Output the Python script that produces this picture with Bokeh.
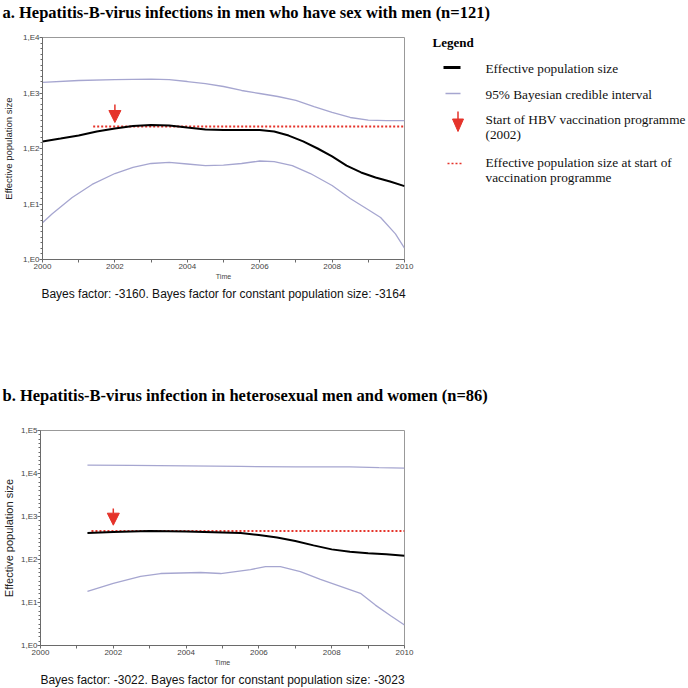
from bokeh.plotting import figure
from bokeh.models import (Arrow, NormalHead, FixedTicker, CustomJSTickFormatter,
                          Range1d, Title)
from bokeh.layouts import column, row
from bokeh.core.properties import value
from bokeh.embed import file_html
from bokeh.resources import INLINE

# ---------------- data: panel a (MSM, n=121) ----------------
a_med_years = [2000, 2000.5, 2001, 2001.5, 2002, 2002.5, 2003, 2003.5, 2004, 2004.5,
               2005, 2005.5, 2006, 2006.4, 2006.8, 2007.2, 2007.6, 2008, 2008.4,
               2008.8, 2009.2, 2009.6, 2010]
a_med_vals = [134, 151, 171, 202, 229, 254, 265, 260, 239, 220, 216, 216, 216, 202,
              171, 134, 100, 72, 49, 37, 30, 25.4, 21]

a_up_years = [2000, 2001, 2002, 2003, 2003.5, 2004, 2004.5, 2005, 2005.5, 2006,
              2006.5, 2007, 2007.5, 2008, 2008.5, 2009, 2009.5, 2010]
a_up_vals = [1550, 1680, 1740, 1780, 1740, 1610, 1480, 1310, 1110, 980, 865, 733,
             570, 447, 362, 325, 318, 318]

a_lo_years = [2000, 2000.27, 2000.82, 2001.37, 2002, 2002.5, 2003, 2003.5, 2004,
              2004.5, 2005, 2005.5, 2006, 2006.4, 2006.9, 2007.4, 2008, 2008.5,
              2009, 2009.34, 2009.75, 2010]
a_lo_vals = [4.6, 6.7, 13.1, 22.5, 35.4, 45.5, 53.7, 56, 52.6, 49, 50, 53.7, 59.5,
             58, 49, 35.4, 21.5, 12.6, 7.9, 5.7, 2.9, 1.6]

a_ref_years = [2001.4, 2010]
a_ref_value = 249
a_vacc_year = 2002
a_arrow_from, a_arrow_to = 620, 294

# ---------------- data: panel b (heterosexual, n=86) ----------------
b_med_years = [2001.29, 2002, 2003, 2004, 2005, 2005.5, 2006, 2006.5, 2007, 2007.5,
               2008, 2008.5, 2009, 2009.5, 2010]
b_med_vals = [412, 434, 457, 445, 423, 412, 371, 324, 270, 213, 172, 151, 139, 132, 122]

b_up_years = [2001.29, 2002.5, 2004, 2005.5, 2007, 2008.5, 2009.3, 2010]
b_up_vals = [15700, 15400, 15000, 14600, 14300, 14300, 13700, 13400]

b_lo_years = [2001.29, 2002.0, 2002.75, 2003.3, 2004.4, 2004.95, 2005.77, 2006.18,
              2006.59, 2007.14, 2007.69, 2008.24, 2008.79, 2009.2, 2009.62, 2010]
b_lo_vals = [18.2, 27.9, 40.3, 47.2, 49.8, 47.2, 58.3, 68.4, 68.4, 52.5, 34.4,
             23.8, 16.4, 8.7, 4.9, 3.0]

b_ref_years = [2001.4, 2010]
b_ref_value = 457
b_vacc_year = 2002
b_arrow_from, b_arrow_to = 1542, 628

# ---------------- texts ----------------
title_a = "a. Hepatitis-B-virus infections in men who have sex with men (n=121)"
title_b = "b. Hepatitis-B-virus infection in heterosexual men and women (n=86)"
caption_a = "Bayes factor: -3160. Bayes factor for constant population size: -3164"
caption_b = "Bayes factor: -3022. Bayes factor for constant population size: -3023"
y_label = "Effective population size"
x_label = "Time"
legend_title = "Legend"
legend_texts = ["Effective population size", "95% Bayesian credible interval",
                "Start of HBV vaccination programme", "(2002)",
                "Effective population size at start of", "vaccination programme"]
x_major = [2000, 2002, 2004, 2006, 2008, 2010]
x_minor = [2001, 2003, 2005, 2007, 2009]

RED = "#e5332a"
BAND = "#a6a6d0"
SERIF = "Liberation Serif"
SANS = "Liberation Sans"


def bare(width, height, x0, x1, y0, y1):
    f = figure(width=width, height=height, x_range=Range1d(x0, x1),
               y_range=Range1d(y1, y0), output_backend="svg",
               toolbar_location=None, x_axis_location=None, y_axis_location=None,
               min_border=0, frame_align=False)
    f.outline_line_color = None
    f.grid.visible = False
    return f


def make_panel(width, height, b_top, b_bottom, ymax, decades, med, up, lo, ref,
               vacc, caption, ylab_fs, ylab_standoff):
    p = figure(width=width, height=height, x_range=Range1d(2000, 2010),
               y_range=Range1d(1, ymax), y_axis_type="log",
               output_backend="svg", toolbar_location=None,
               min_border_left=40, min_border_right=width - 404,
               min_border_top=b_top, min_border_bottom=b_bottom,
               frame_align=False)
    p.grid.visible = False
    p.outline_line_color = "#999999"

    for ax in (p.xaxis[0], p.yaxis[0]):
        ax.axis_line_color = "#6a6a6a"
        ax.major_tick_line_color = "#6a6a6a"
        ax.minor_tick_line_color = "#6a6a6a"
        ax.major_label_text_font = SANS
        ax.major_label_text_font_size = "8px"
        ax.major_label_text_color = "#444444"
        ax.major_tick_in = 0
        ax.minor_tick_in = 0
        ax.axis_label_text_font = SANS
        ax.axis_label_text_font_style = "normal"
    p.xaxis.ticker = FixedTicker(ticks=x_major, minor_ticks=x_minor)
    p.xaxis.major_tick_out = 3
    p.xaxis.minor_tick_out = 3
    p.xaxis.major_label_standoff = 1
    p.xaxis.axis_label = x_label
    p.xaxis.axis_label_text_font_size = "7px"
    p.xaxis.axis_label_text_color = "#444444"
    p.xaxis.axis_label_standoff = 1

    yminor = [10 ** (d + k / 10) for d in range(decades) for k in range(1, 10)]
    p.yaxis.ticker = FixedTicker(ticks=[10 ** d for d in range(decades + 1)],
                                 minor_ticks=yminor)
    p.yaxis.formatter = CustomJSTickFormatter(
        code="return '1,E' + Math.round(Math.log10(tick));")
    p.yaxis.major_tick_out = 3
    p.yaxis.minor_tick_out = 2
    p.yaxis.major_label_standoff = 0
    p.yaxis.axis_label = y_label
    p.yaxis.axis_label_text_font_size = ylab_fs
    p.yaxis.axis_label_text_color = "#222222"
    p.yaxis.axis_label_standoff = ylab_standoff

    cap = Title(text=caption, align="center", text_font=SANS,
                text_font_size="12px", text_font_style="normal",
                text_color="#111111", standoff=4)
    p.add_layout(cap, "below")

    p.line(up[0], up[1], line_color=BAND, line_width=1.3)
    p.line(lo[0], lo[1], line_color=BAND, line_width=1.3)
    p.line(ref[0], [ref[1]] * len(ref[0]), line_color=RED, line_width=2,
           line_dash="2 2")
    p.line(med[0], med[1], line_color="black", line_width=2)
    p.add_layout(Arrow(end=NormalHead(size=12, fill_color=RED, line_color=RED),
                       x_start=vacc[0], y_start=vacc[1], x_end=vacc[0],
                       y_end=vacc[2], line_color=RED, line_width=1.5))
    return p


def header(text, height, y0, ymid):
    h = bare(688, height, 0, 688, y0, y0 + height)
    h.text(x=[2], y=[ymid], text=[text], text_font=value(SERIF),
           text_font_style="bold", text_font_size="16.5px", text_baseline="middle",
           text_color="black")
    return h


# header with title a (page coordinates 0..24)
hdr_a = header(title_a, 24, 0, 12)

pa = make_panel(425, 306, 13, 71, 1e4, 4,
                (a_med_years, a_med_vals), (a_up_years, a_up_vals),
                (a_lo_years, a_lo_vals), (a_ref_years, a_ref_value),
                (a_vacc_year, a_arrow_from, a_arrow_to),
                caption_a, "9.5px", 6)

# legend panel (page coordinates x 425..688, y 24..330)
leg = bare(263, 306, 425, 688, 24, 330)
leg.text(x=[432], y=[42], text=[legend_title], text_font=value(SERIF),
         text_font_style="bold", text_font_size="13px", text_baseline="middle",
         text_color="black")
leg.segment(x0=[443], y0=[67], x1=[460], y1=[67], line_color="black", line_width=3)
leg.segment(x0=[445], y0=[93], x1=[460], y1=[93], line_color=BAND, line_width=1.3)
leg.segment(x0=[457.5], y0=[111], x1=[457.5], y1=[120], line_color=RED, line_width=1.5)
leg.patch(x=[452, 463, 457.5], y=[118.5, 118.5, 131], fill_color=RED, line_color=RED)
leg.segment(x0=[447], y0=[163], x1=[461], y1=[163], line_color=RED, line_width=1.5,
            line_dash="2 2")
leg.text(x=[485] * 6, y=[68, 94, 119, 134, 162, 177], text=legend_texts,
         text_font=value(SERIF), text_font_size="13.3px", text_baseline="middle",
         text_color="#111111")

# header with title b (page coordinates 330..410)
hdr_b = header(title_b, 80, 330, 395)

pb = make_panel(688, 278, 20, 40, 1e5, 5,
                (b_med_years, b_med_vals), (b_up_years, b_up_vals),
                (b_lo_years, b_lo_vals), (b_ref_years, b_ref_value),
                (b_vacc_year, b_arrow_from, b_arrow_to),
                caption_b, "11px", 3)

layout = column(hdr_a, row(pa, leg, spacing=0), hdr_b, pb, spacing=0)
open("out.html", "w").write(file_html(layout, INLINE))
